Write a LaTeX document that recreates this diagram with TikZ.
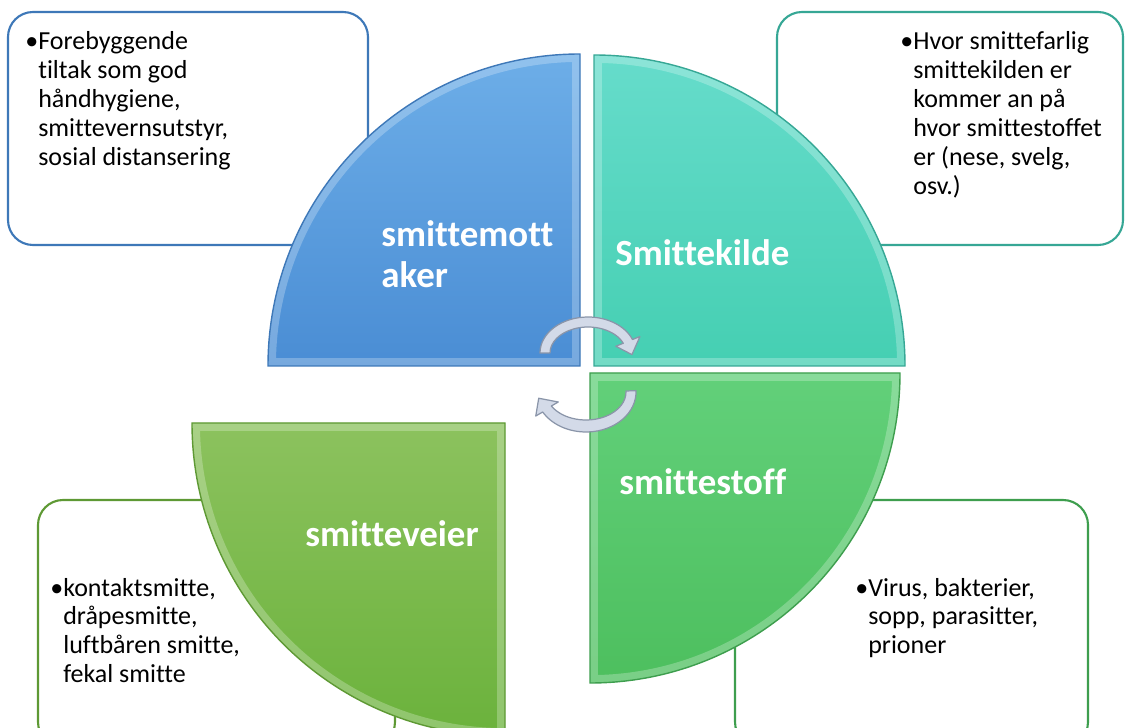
\documentclass[tikz,border=0pt]{standalone}
\usepackage{fontspec}
\setmainfont{Carlito}[Ligatures=NoCommon]
\usetikzlibrary{calc}

\definecolor{blueTop}{HTML}{6DAEE8}
\definecolor{blueBot}{HTML}{4A8DD4}
\definecolor{blueLine}{HTML}{3E78B8}
\definecolor{tealTop}{HTML}{66DCCB}
\definecolor{tealBot}{HTML}{45CFB2}
\definecolor{tealLine}{HTML}{36A795}
\definecolor{stoffTop}{HTML}{62D07A}
\definecolor{stoffBot}{HTML}{4DBF5E}
\definecolor{stoffLine}{HTML}{3E9E4E}
\definecolor{veiTop}{HTML}{8CC25E}
\definecolor{veiBot}{HTML}{6BB23C}
\definecolor{veiLine}{HTML}{5E9934}
\definecolor{arrowfill}{HTML}{D3DAE8}
\definecolor{arrowline}{HTML}{8A95A9}

\tikzset{
  infobox/.style={fill=white, line width=1.2pt, rounded corners=0.5cm},
  boxtext/.style={anchor=base west, inner sep=0pt, font=\fontsize{14.8}{16.4}\selectfont},
  sectortext/.style={anchor=base west, inner sep=0pt, text=white, font=\fontsize{21}{22.8}\selectfont\bfseries},
  bevel/.style={draw=white, draw opacity=0.25, line width=9pt},
  rim/.style={line width=0.8pt},
  cyclearrow/.style={fill=arrowfill, draw=arrowline, line width=0.7pt, line join=round},
}

\begin{document}
\begin{tikzpicture}[x=0.02cm, y=0.02cm]
  \useasboundingbox (0,0) rectangle (1125,727);
  \clip (0,0) rectangle (1125,727);

  % text boxes behind the circle
  \draw[infobox, draw=blueLine] (8,482) rectangle (368,715);
  \draw[infobox, draw=tealLine] (777,482) rectangle (1123,715);
  \draw[infobox, draw=veiLine] (38,-20) rectangle (395,227);
  \draw[infobox, draw=stoffLine] (735,-20) rectangle (1088,227);

  \node[boxtext] (tiltak) at (25,677) {\begin{tabular}[t]{@{}l@{}l@{}}
    •&Forebyggende\\ &tiltak som god\\ &håndhygiene,\\ &smittevernsutstyr,\\ &sosial distansering
  \end{tabular}};
  \node[boxtext] (farlig) at (900,677) {\begin{tabular}[t]{@{}l@{}l@{}}
    •&Hvor smittefarlig\\ &smittekilden er\\ &kommer an på\\ &hvor smittestoffet\\ &er (nese, svelg,\\ &osv.)
  \end{tabular}};
  \node[boxtext] (veiliste) at (50,131) {\begin{tabular}[t]{@{}l@{}l@{}}
    •&kontaktsmitte,\\ &dråpesmitte,\\ &luftbåren smitte,\\ &fekal smitte
  \end{tabular}};
  \node[boxtext] (agens) at (855,131) {\begin{tabular}[t]{@{}l@{}l@{}}
    •&Virus, bakterier,\\ &sopp, parasitter,\\ &prioner
  \end{tabular}};

  % four quarters
  \begin{scope}
    \clip (580,361) -- (268,361) arc[start angle=180, end angle=90, radius=312] -- cycle;
    \shade[top color=blueTop, bottom color=blueBot] (580,361) -- (268,361) arc[start angle=180, end angle=90, radius=312] -- cycle;
    \draw[bevel] (580,361) -- (268,361) arc[start angle=180, end angle=90, radius=312] -- cycle;
  \end{scope}
  \draw[rim, draw=blueLine] (580,361) -- (268,361) arc[start angle=180, end angle=90, radius=312] -- cycle;

  \begin{scope}
    \clip (594,361) -- (594,672) arc[start angle=90, end angle=0, radius=311] -- cycle;
    \shade[top color=tealTop, bottom color=tealBot] (594,361) -- (594,672) arc[start angle=90, end angle=0, radius=311] -- cycle;
    \draw[bevel] (594,361) -- (594,672) arc[start angle=90, end angle=0, radius=311] -- cycle;
  \end{scope}
  \draw[rim, draw=tealLine] (594,361) -- (594,672) arc[start angle=90, end angle=0, radius=311] -- cycle;

  \begin{scope}
    \clip (590,354) -- (900,354) arc[start angle=0, end angle=-90, radius=310] -- cycle;
    \shade[top color=stoffTop, bottom color=stoffBot] (590,354) -- (900,354) arc[start angle=0, end angle=-90, radius=310] -- cycle;
    \draw[bevel] (590,354) -- (900,354) arc[start angle=0, end angle=-90, radius=310] -- cycle;
  \end{scope}
  \draw[rim, draw=stoffLine] (590,354) -- (900,354) arc[start angle=0, end angle=-90, radius=310] -- cycle;

  \begin{scope}
    \clip (505,304) -- (505,-9) arc[start angle=-90, end angle=-180, radius=313] -- cycle;
    \shade[top color=veiTop, bottom color=veiBot] (505,304) -- (505,-9) arc[start angle=-90, end angle=-180, radius=313] -- cycle;
    \draw[bevel] (505,304) -- (505,-9) arc[start angle=-90, end angle=-180, radius=313] -- cycle;
  \end{scope}
  \draw[rim, draw=veiLine] (505,304) -- (505,-9) arc[start angle=-90, end angle=-180, radius=313] -- cycle;

  \node[sectortext] (mottaker) at (381,480) {\begin{tabular}[t]{@{}l@{}}smittemott\\aker\end{tabular}};
  \node[sectortext] (kilde) at (615,461) {Smittekilde};
  \node[sectortext] (stoff) at (619,233) {smittestoff};
  \node[sectortext] (veier) at (305,181) {smitteveier};

  % cycle arrows in the middle
  \coordinate (upc) at (588,374);
  \coordinate (lowc) at (586,335);
  \filldraw[cyclearrow] ($(upc)+(180:48 and 36)$) arc[start angle=180, end angle=22, x radius=48, y radius=36]
    -- ($(upc)+(22:56 and 44)$) -- ($(upc)+(-3:44 and 31)$) -- ($(upc)+(22:30 and 18)$)
    -- ($(upc)+(22:38 and 26)$) arc[start angle=22, end angle=180, x radius=38, y radius=26] -- cycle;
  \filldraw[cyclearrow] ($(lowc)+(2:50 and 40)$) arc[start angle=2, end angle=-150, x radius=50, y radius=40]
    -- ($(lowc)+(-150:58 and 48)$) -- ($(lowc)+(-170:48 and 36)$) -- ($(lowc)+(-150:32 and 20)$)
    -- ($(lowc)+(-150:40 and 28)$) arc[start angle=-150, end angle=2, x radius=40, y radius=28] -- cycle;
\end{tikzpicture}
\end{document}
